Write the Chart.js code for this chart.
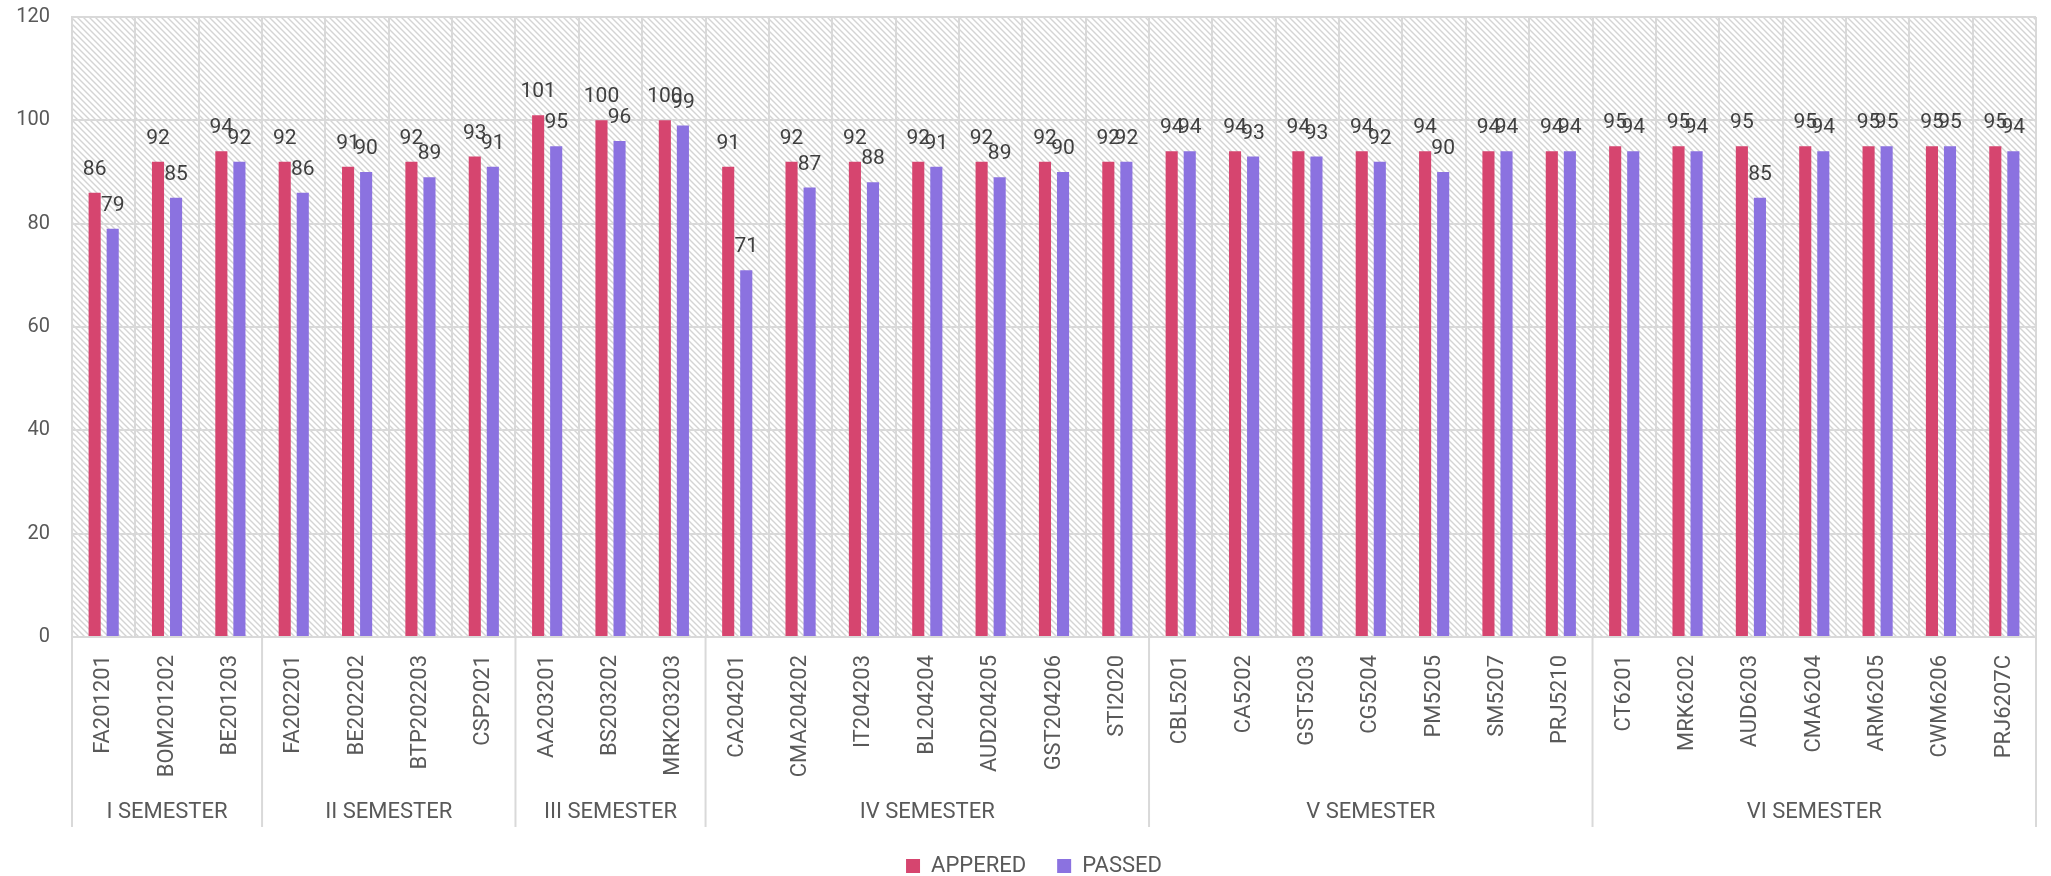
<!DOCTYPE html>
<html><head><meta charset="utf-8">
<script src="https://cdn.jsdelivr.net/npm/chart.js@4.4.1/dist/chart.umd.min.js"></script>
<style>html,body{margin:0;padding:0;background:#fff;overflow:hidden;}</style>
</head><body>
<canvas id="c" width="2051" height="876"></canvas>
<script>
const categories = ['FA201201','BOM201202','BE201203',
  'FA202201','BE202202','BTP202203','CSP2021',
  'AA203201','BS203202','MRK203203',
  'CA204201','CMA204202','IT204203','BL204204','AUD204205','GST204206','STI2020',
  'CBL5201','CA5202','GST5203','CG5204','PM5205','SM5207','PRJ5210',
  'CT6201','MRK6202','AUD6203','CMA6204','ARM6205','CWM6206','PRJ6207C'];
const groupNames = ['I SEMESTER','II SEMESTER','III SEMESTER','IV SEMESTER','V SEMESTER','VI SEMESTER'];
const groupSizes = [3,4,3,7,7,7];
const appered = [86,92,94, 92,91,92,93, 101,100,100, 91,92,92,92,92,92,92, 94,94,94,94,94,94,94, 95,95,95,95,95,95,95];
const passed  = [79,85,92, 86,90,89,91, 95,96,99, 71,87,88,91,89,90,92, 94,93,93,92,90,94,94, 94,94,85,94,95,95,94];
const yMin = 0, yMax = 120, yStep = 20;

const FONT = 'Roboto, "Liberation Sans", sans-serif';
const GRID = '#d9d9d9';

const tile = document.createElement('canvas');
tile.width = 6; tile.height = 6;
(function(){
  const t = tile.getContext('2d');
  t.fillStyle = '#ffffff'; t.fillRect(0,0,6,6);
  t.strokeStyle = '#d4d4d4'; t.lineWidth = 1.4;
  t.beginPath();
  t.moveTo(-1,-1); t.lineTo(7,7);
  t.moveTo(-1,5); t.lineTo(1,7);
  t.moveTo(5,-1); t.lineTo(7,1);
  t.stroke();
})();

const hatchPlugin = {
  id: 'hatch',
  beforeDraw(chart) {
    const {ctx, chartArea: a} = chart;
    ctx.save();
    ctx.fillStyle = ctx.createPattern(tile, 'repeat');
    ctx.fillRect(a.left, a.top, a.right - a.left, a.bottom - a.top);
    ctx.restore();
  }
};

const legendShift = {
  id: 'legendShift',
  afterLayout(chart) {
    if (chart.legend) { chart.legend.left += 16; chart.legend.right += 16; }
  }
};

const labelPlugin = {
  id: 'valueLabels',
  afterDatasetsDraw(chart) {
    const ctx = chart.ctx;
    ctx.save();
    ctx.font = '21px ' + FONT;
    ctx.fillStyle = '#404040';
    ctx.textAlign = 'center';
    ctx.textBaseline = 'alphabetic';
    chart.data.datasets.forEach((ds, di) => {
      const meta = chart.getDatasetMeta(di);
      meta.data.forEach((el, i) => {
        ctx.fillText(String(ds.data[i]), el.x, el.y - 18);
      });
    });
    ctx.restore();
  }
};

const groupPlugin = {
  id: 'groupAxis',
  afterDraw(chart) {
    const ctx = chart.ctx;
    const xs = chart.scales.x;
    const bottom = chart.chartArea.bottom;
    const half = (xs.getPixelForValue(1) - xs.getPixelForValue(0)) / 2;
    const sepBottom = 827;
    ctx.save();
    ctx.strokeStyle = GRID;
    ctx.lineWidth = 2;
    ctx.font = '22px ' + FONT;
    ctx.fillStyle = '#595959';
    ctx.textAlign = 'center';
    ctx.textBaseline = 'middle';
    let start = 0;
    const edges = [xs.getPixelForValue(0) - half];
    groupSizes.forEach((n, g) => {
      const l = xs.getPixelForValue(start) - half;
      const r = xs.getPixelForValue(start + n - 1) + half;
      edges.push(r);
      ctx.fillText(groupNames[g], (l + r) / 2, 812);
      start += n;
    });
    edges.forEach(x => {
      ctx.beginPath();
      ctx.moveTo(x, bottom);
      ctx.lineTo(x, sepBottom);
      ctx.stroke();
    });
    ctx.restore();
  }
};

new Chart(document.getElementById('c'), {
  type: 'bar',
  data: {
    labels: categories,
    datasets: [
      { label: 'APPERED', data: appered, backgroundColor: '#D6456F', borderWidth: 0,
        categoryPercentage: 0.57, barPercentage: 0.67 },
      { label: 'PASSED', data: passed, backgroundColor: '#8B72E0', borderWidth: 0,
        categoryPercentage: 0.57, barPercentage: 0.67 }
    ]
  },
  options: {
    responsive: false,
    animation: false,
    devicePixelRatio: 1,
    layout: { padding: { left: 0, right: 15, top: 17, bottom: 0 } },
    plugins: {
      legend: {
        position: 'bottom',
        maxHeight: 52,
        labels: {
          boxWidth: 14, boxHeight: 14, padding: 31,
          color: '#595959',
          font: { family: FONT, size: 22 }
        }
      },
      tooltip: { enabled: false }
    },
    scales: {
      x: {
        offset: true,
        grid: { offset: true, color: GRID, lineWidth: 2, drawTicks: false },
        border: { color: GRID, width: 2 },
        ticks: {
          autoSkip: false, maxRotation: 90, minRotation: 90, padding: 18,
          color: '#595959', font: { family: FONT, size: 22 }
        },
        afterFit(s) { s.height = 187; s.paddingLeft = 0; s.paddingRight = 0; }
      },
      y: {
        min: yMin, max: yMax,
        grid: { color: GRID, lineWidth: 2, drawTicks: false },
        border: { color: GRID, width: 2 },
        ticks: { stepSize: yStep, padding: 22, color: '#595959', font: { family: FONT, size: 20 } },
        afterFit(s) { s.width = 72; s.paddingTop = 0; s.paddingBottom = 0; }
      }
    }
  },
  plugins: [hatchPlugin, legendShift, labelPlugin, groupPlugin]
});
</script>
</body></html>
